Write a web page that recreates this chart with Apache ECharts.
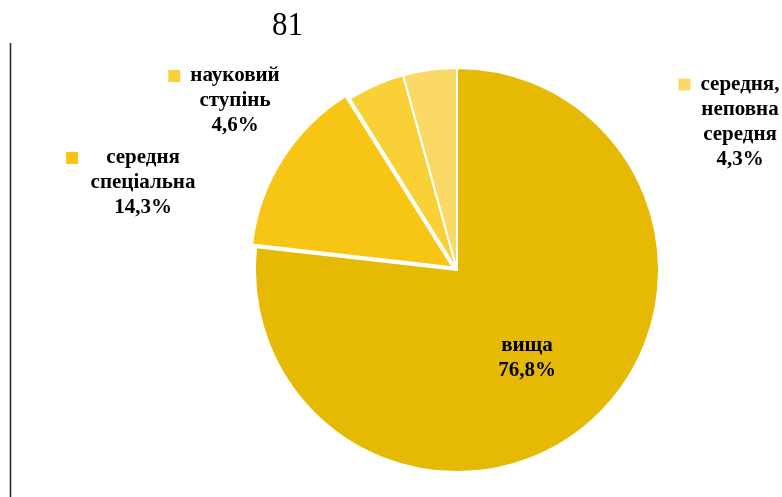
<!DOCTYPE html>
<html>
<head>
<meta charset="utf-8">
<script src="https://cdn.jsdelivr.net/npm/echarts@6/dist/echarts.min.js"></script>
<style>
html,body{margin:0;padding:0;background:#fff;}
#c{width:782px;height:497px;}
</style>
</head>
<body>
<div id="c"></div>
<script>
const categories = ['вища', 'середня\nспеціальна', 'науковий\nступінь', 'середня,\nнеповна\nсередня'];
const values = [76.8, 14.3, 4.6, 4.3];
const colors = ['#E6B905', '#F7C614', '#F9D035', '#FAD966'];
const exploded = [false, true, false, false];
const pageNumber = '81';

const labelPos = [
  {x: 527, y: 358, sp: 10, bal: 22},
  {x: 143, y: 183, sp: 28, bal: 40},
  {x: 235, y: 101, sp: 10, bal: 22},
  {x: 740, y: 122, sp: 10, bal: 22}
];

const fontFam = '"Liberation Serif", "Times New Roman", serif';
const CX = 457, CY = 270, R = 202, EXPLODE = 5;

// bisector of exploded slice
const total = values.reduce((a, b) => a + b, 0);
let acc = 0, ex = 0, ey = 0;
values.forEach((v, i) => {
  if (exploded[i]) {
    const mid = (acc + v / 2) / total * 2 * Math.PI;
    ex = Math.sin(mid) * EXPLODE;
    ey = -Math.cos(mid) * EXPLODE;
  }
  acc += v;
});

const mainData = categories.map((name, i) => {
  const lines = name.split('\n');
  const pct = values[i].toFixed(1).replace('.', ',') + '%';
  let text;
  if (i === 0) {
    text = lines.map(l => '{t|' + l + '}').join('\n') + '\n{t|' + pct + '}';
  } else {
    text = '{sq|}{sp|}{t|' + lines[0] + '}{bal|}\n' + lines.slice(1).map(l => '{t|' + l + '}').join('\n') + (lines.length > 1 ? '\n' : '') + '{t|' + pct + '}';
  }
  return {
    name: name,
    value: values[i],
    itemStyle: exploded[i] ? {color: 'rgba(0,0,0,0)', borderColor: 'rgba(0,0,0,0)'} : {color: colors[i]},
    label: {
      formatter: text,
      rich: {
        t: {fontFamily: fontFam, fontWeight: 'bold', fontSize: 21, color: '#000', lineHeight: 25},
        sq: {width: 12, height: 12, backgroundColor: colors[i]},
        sp: {width: labelPos[i].sp},
        bal: {width: labelPos[i].bal}
      }
    }
  };
});

const explodedData = categories.map((name, i) => ({
  name: name,
  value: values[i],
  itemStyle: exploded[i] ? {color: colors[i]} : {color: 'rgba(0,0,0,0)', borderColor: 'rgba(0,0,0,0)'}
}));

const chart = echarts.init(document.getElementById('c'), null, {renderer: 'canvas'});
chart.setOption({
  animation: false,
  backgroundColor: '#fff',
  graphic: [
    {type: 'text', x: 272, y: 26, scaleY: 1.1, style: {text: pageNumber, x: 0, y: 0, verticalAlign: 'middle', font: '31px ' + fontFam, fill: '#000'}},
    {type: 'line', shape: {x1: 10.5, y1: 43, x2: 10.5, y2: 497}, style: {stroke: '#222', lineWidth: 1.5}}
  ],
  series: [{
    type: 'pie',
    center: [CX, CY],
    radius: [0, R],
    startAngle: 90,
    clockwise: true,
    itemStyle: {borderColor: '#fff', borderWidth: 2},
    emphasis: {disabled: true},
    label: {show: true, position: 'inside', align: 'center', color: '#000'},
    labelLine: {show: false},
    labelLayout: function (params) {
      const p = labelPos[params.dataIndex];
      return {x: p.x, y: p.y, align: 'center', verticalAlign: 'middle'};
    },
    data: mainData
  }, {
    type: 'pie',
    center: [CX + ex, CY + ey],
    radius: [0, R],
    startAngle: 90,
    clockwise: true,
    silent: true,
    itemStyle: {borderColor: '#fff', borderWidth: 2},
    emphasis: {disabled: true},
    label: {show: false},
    labelLine: {show: false},
    data: explodedData
  }]
});
</script>
</body>
</html>
